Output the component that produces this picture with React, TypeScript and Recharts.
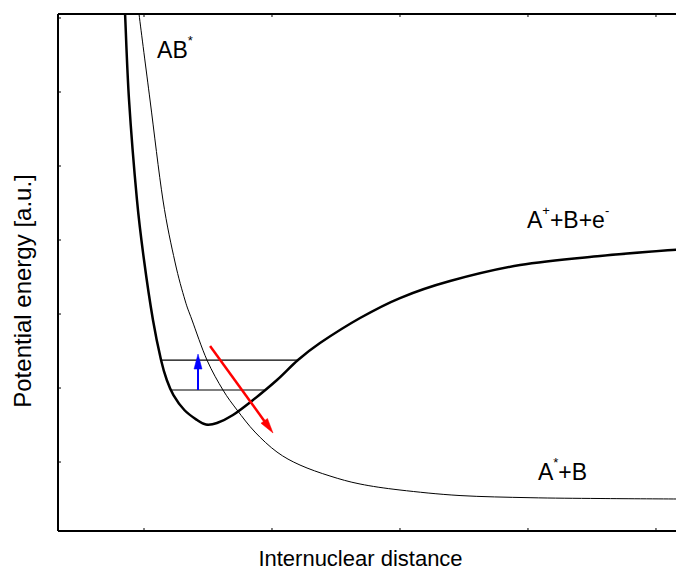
import React from 'react';
import { LineChart, Line, XAxis, YAxis, ReferenceLine, ReferenceDot } from 'recharts';

// Bound molecular-ion state (thick curve)
const boundDistance = [0.842, 0.852, 0.883, 0.945, 1.000, 1.070, 1.133, 1.178, 1.230, 1.315, 1.414, 1.484, 1.570, 1.695, 1.852, 2.039, 2.203, 2.375, 2.688, 3.000, 3.391, 3.938, 4.563, 5.219];
const boundEnergy = [7.378, 7.054, 5.892, 4.541, 3.730, 2.919, 2.378, 2.108, 1.905, 1.703, 1.568, 1.507, 1.527, 1.635, 1.838, 2.108, 2.378, 2.608, 2.946, 3.216, 3.446, 3.662, 3.784, 3.878];

// Repulsive AB* state (thin curve)
const repulsiveDistance = [0.941, 0.961, 1.047, 1.148, 1.242, 1.320, 1.375, 1.492, 1.617, 1.727, 1.867, 2.039, 2.219, 2.453, 2.688, 3.000, 3.469, 4.016, 4.563, 5.219];
const repulsiveEnergy = [7.378, 7.054, 5.892, 4.541, 3.703, 3.189, 2.919, 2.378, 1.973, 1.703, 1.405, 1.135, 0.959, 0.811, 0.703, 0.622, 0.547, 0.518, 0.507, 0.500];

// Vibrational levels in the bound well
const levelEnergy = [2.378, 1.973];
const levelStart = [1.133, 1.215];
const levelEnd = [2.203, 1.94];

// Excitation (blue) and dissociation (red) arrows: [x1, y1, x2, y2]
const excitationArrow = [1.422, 1.973, 1.422, 2.459];
const dissociationArrow = [1.516, 2.568, 2.008, 1.392];

// Axis ticks (unlabelled)
const xTicks = [1, 2, 3, 4, 5];
const yTicks = [1, 2, 3, 4, 5, 6, 7];
const xDomain: [number, number] = [0.328, 5.219];
const yDomain: [number, number] = [0.068, 7.054];

const boundCurve = boundDistance.map((d, i) => ({ d, e: boundEnergy[i] }));
const repulsiveCurve = repulsiveDistance.map((d, i) => ({ d, e: repulsiveEnergy[i] }));

const FONT = "'Liberation Sans', Arial, Helvetica, sans-serif";
const W = 676;
const H = 562;

// Parametric Catmull-Rom curve factory (handles near-vertical branches smoothly)
const catmullRom = (context: any) => {
  let pts: [number, number][] = [];
  return {
    areaStart() {},
    areaEnd() {},
    lineStart() {
      pts = [];
    },
    point(x: number, y: number) {
      pts.push([+x, +y]);
    },
    lineEnd() {
      if (!pts.length) return;
      context.moveTo(pts[0][0], pts[0][1]);
      for (let i = 0; i < pts.length - 1; i++) {
        const p0 = pts[i - 1] || pts[i];
        const p1 = pts[i];
        const p2 = pts[i + 1];
        const p3 = pts[i + 2] || p2;
        context.bezierCurveTo(
          p1[0] + (p2[0] - p0[0]) / 6,
          p1[1] + (p2[1] - p0[1]) / 6,
          p2[0] - (p3[0] - p1[0]) / 6,
          p2[1] - (p3[1] - p1[1]) / 6,
          p2[0],
          p2[1],
        );
      }
    },
  };
};

const NoLabel = () => <g />;

const arrowShape = (color: string, width: number) => (props: any) => {
  const { x1, y1, x2, y2 } = props;
  const dx = x2 - x1;
  const dy = y2 - y1;
  const len = Math.sqrt(dx * dx + dy * dy) || 1;
  const ux = dx / len;
  const uy = dy / len;
  const head = 15;
  const half = 4;
  const bx = x2 - ux * head;
  const by = y2 - uy * head;
  const px = -uy * half;
  const py = ux * half;
  return (
    <g>
      <line x1={x1} y1={y1} x2={bx + ux * 2} y2={by + uy * 2} stroke={color} strokeWidth={width} />
      <polygon points={`${x2},${y2} ${bx + px},${by + py} ${bx - px},${by - py}`} fill={color} stroke={color} strokeWidth={0.5} />
    </g>
  );
};

const stateLabel = (main: [string, string][]) => (props: any) => {
  const { cx, cy } = props;
  let prevSup = false;
  return (
    <text x={cx} y={cy} fill="#000" style={{ fontFamily: FONT, fontSize: 23 }}>
      {main.map(([t, kind], i) => {
        const sup = kind === 'sup';
        const dy = sup && !prevSup ? -13 : !sup && prevSup ? 13 : 0;
        prevSup = sup;
        return (
          <tspan key={i} dy={dy} style={{ fontSize: sup ? 13 : 23 }}>
            {t}
          </tspan>
        );
      })}
    </text>
  );
};

const axisLine = { stroke: '#000', strokeWidth: 2 };
const tickLine = { stroke: '#000', strokeWidth: 1 };

export default function App() {
  return (
    <div style={{ position: 'relative', width: W, height: H }}>
      <LineChart width={W} height={H} margin={{ top: 5, right: 0, bottom: 0, left: 0 }}>
        <XAxis
          xAxisId={0}
          type="number"
          dataKey="d"
          domain={xDomain}
          ticks={xTicks}
          interval={0}
          allowDataOverflow
          tick={NoLabel}
          tickSize={-3}
          height={39}
          axisLine={axisLine}
          tickLine={tickLine}
        />
        <XAxis
          xAxisId="top"
          orientation="top"
          type="number"
          dataKey="d"
          domain={xDomain}
          ticks={xTicks}
          interval={0}
          allowDataOverflow
          tick={NoLabel}
          tickSize={-3}
          height={1}
          axisLine={axisLine}
          tickLine={tickLine}
        />
        <YAxis
          type="number"
          dataKey="e"
          domain={yDomain}
          ticks={yTicks}
          interval={0}
          allowDataOverflow
          tick={NoLabel}
          tickSize={-3}
          width={50}
          axisLine={axisLine}
          tickLine={tickLine}
        />
        <Line
          data={repulsiveCurve}
          dataKey="e"
          type={catmullRom as any}
          stroke="#000"
          strokeWidth={1}
          dot={false}
          activeDot={false}
          isAnimationActive={false}
        />
        <Line
          data={boundCurve}
          dataKey="e"
          type={catmullRom as any}
          stroke="#000"
          strokeWidth={2.5}
          dot={false}
          activeDot={false}
          isAnimationActive={false}
        />
        {levelEnergy.map((e, i) => (
          <ReferenceLine
            key={`lvl${i}`}
            segment={[{ x: levelStart[i], y: e }, { x: levelEnd[i], y: e }]}
            stroke="#000"
            strokeWidth={1.2}
          />
        ))}
        <ReferenceLine
          segment={[{ x: excitationArrow[0], y: excitationArrow[1] }, { x: excitationArrow[2], y: excitationArrow[3] }]}
          shape={arrowShape('#0000ff', 2)}
        />
        <ReferenceLine
          segment={[{ x: dissociationArrow[0], y: dissociationArrow[1] }, { x: dissociationArrow[2], y: dissociationArrow[3] }]}
          shape={arrowShape('#ff0000', 2.5)}
        />
        <ReferenceDot x={1.102} y={6.459} r={0} shape={stateLabel([['AB', 'n'], ['*', 'sup']])} />
        <ReferenceDot
          x={3.992}
          y={4.162}
          r={0}
          shape={stateLabel([['A', 'n'], ['+', 'sup'], ['+B+e', 'n'], ['-', 'sup']])}
        />
        <ReferenceDot x={4.078} y={0.757} r={0} shape={stateLabel([['A', 'n'], ['*', 'sup'], ['+B', 'n']])} />
      </LineChart>
      <svg
        width={W}
        height={H}
        style={{ position: 'absolute', left: 0, top: 0, pointerEvents: 'none' }}
      >
        <text x={352.5} y={558} textAnchor="middle" fill="#000" style={{ fontFamily: FONT, fontSize: 22 }}>
          Internuclear distance
        </text>
        <text
          x={23}
          y={283}
          textAnchor="middle"
          transform="rotate(-90, 23, 283)"
          fill="#000"
          style={{ fontFamily: FONT, fontSize: 24 }}
        >
          Potential energy [a.u.]
        </text>
      </svg>
    </div>
  );
}
